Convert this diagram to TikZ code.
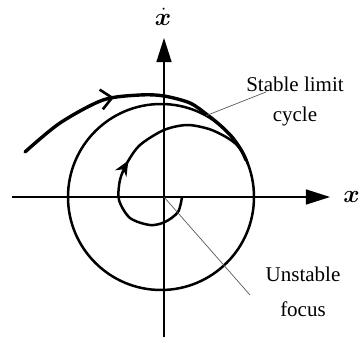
\documentclass[tikz,border=0pt]{standalone}
\usepackage{bm}
\usepackage{fontspec}
\setmainfont{Liberation Serif}
\usetikzlibrary{arrows.meta,calc,decorations.markings}

\begin{document}
\begin{tikzpicture}[x=1pt,y=1pt,font=\fontsize{21}{30}\selectfont,>={Triangle[length=24pt,width=15pt]}]
 \tikzset{
  traj/.style={line width=2.5pt,line cap=round,line join=round},
  leader/.style={black!65,line width=.7pt},
  axlabel/.style={inner sep=0pt,font=\fontsize{26}{30}\selectfont},
  flowmark/.style 2 args={postaction={decorate},decoration={markings,mark=at position #1 with {\arrow{#2}}}},
 }
 \useasboundingbox (-164,-141) rectangle (196,197);
 % axes
 \coordinate (O) at (0,0);
 \draw[->,line width=1.3pt] (-152,0)--(166,0);
 \draw[->,line width=1.3pt] (0,-140)--(0,159);
 \node (xlab) [axlabel,anchor=east] at (196,0) {$\bm{x}$};
 \node (xdot) [axlabel] at (-1,180) {$\bm{\dot{x}}$};
 % limit cycle
 \draw[traj] (-3,0) circle (93);
 \coordinate (cyc) at ($(-3,0)+(61:93)$);
 % outer trajectory
 \draw[traj,line width=3.4pt,flowmark={.4}{Straight Barb[length=11pt,width=20pt,line width=2.6pt]}]
   plot[smooth] coordinates {(-139,45) (-104,74) (-61,97) (-24,102) (0,101) (26,94) (43.5,82) (56.8,71.2) (68.2,59.8) (77.5,46.5) (82,37)};
 % inner spiral
 \draw[traj,flowmark={.47}{Stealth[length=15pt,width=13pt]}]
   plot[smooth] coordinates {(18,0) (14,-15) (1,-25) (-14,-28) (-34,-21) (-45,-3) (-44,17) (-37,34) (-24,52) (0,67) (23,72) (45,68) (62,60) (73,52) (80,42) (84,33)};
 % labels
 \node (stab) [align=center,inner sep=0pt] at (131,96) {Stable limit\\cycle};
 \node (unst) [align=center,inner sep=0pt,font=\fontsize{21}{35}\selectfont] at (139,-95) {Unstable\\focus};
 \coordinate (stabend) at (102,105);
 \coordinate (unstend) at (86,-98);
 \draw[leader] (cyc)--(stabend);
 \draw[leader] (O)--(unstend);
\end{tikzpicture}
\end{document}
